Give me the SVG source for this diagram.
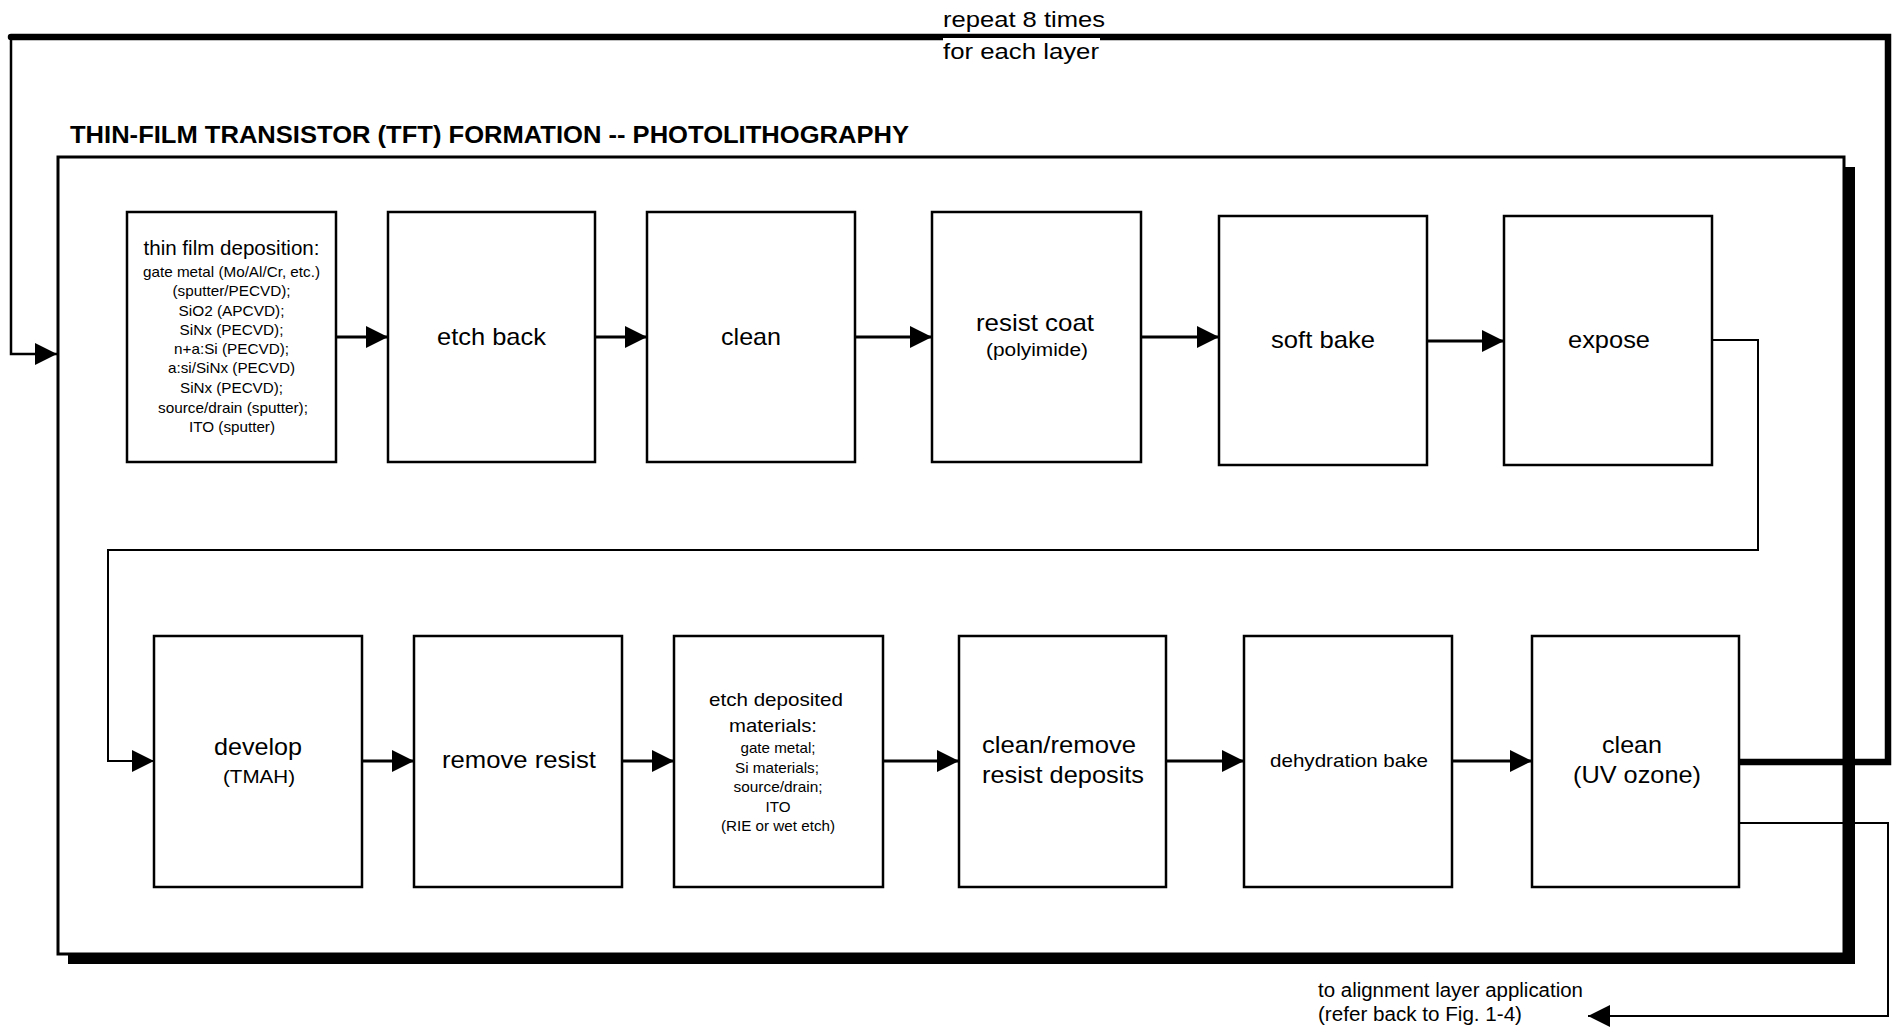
<svg xmlns="http://www.w3.org/2000/svg" width="1893" height="1028" viewBox="0 0 1893 1028">
<defs>
<marker id="ah" markerUnits="userSpaceOnUse" markerWidth="22" markerHeight="22" refX="22" refY="11" orient="auto" viewBox="0 0 22 22">
<path d="M0,0 L22,11 L0,22 z" fill="#000"/>
</marker>
</defs>
<style>
text{font-family:"Liberation Sans",Arial,sans-serif;fill:#000;text-anchor:middle}
.t{font-size:24px}
.m{font-size:19.5px}
.s{font-size:14.5px}
.box{fill:#fff;stroke:#000;stroke-width:2.5}
.arr{fill:none;stroke:#000;stroke-width:3;marker-end:url(#ah)}
.thin{fill:none;stroke:#000;stroke-width:2}
</style>
<rect x="0" y="0" width="1893" height="1028" fill="#fff"/>

<g id="frame">
<rect x="68" y="167" width="1787" height="797" fill="#000"/>
<rect x="58" y="157" width="1786" height="797" fill="#fff" stroke="#000" stroke-width="3"/>
<text x="70" y="143" style="font-size:24.5px;font-weight:bold;text-anchor:start" textLength="839" lengthAdjust="spacingAndGlyphs">THIN-FILM TRANSISTOR (TFT) FORMATION -- PHOTOLITHOGRAPHY</text>
</g>

<g id="connectors">
<path d="M11,37 H1888 V762 H1739" fill="none" stroke="#000" stroke-width="6.5" stroke-linecap="round"/>
<path d="M11,37 V354 H57" class="arr" style="stroke-width:2.5"/>
<path d="M336,337 H388" class="arr"/>
<path d="M595,337 H647" class="arr"/>
<path d="M855,337 H932" class="arr"/>
<path d="M1141,337 H1219" class="arr"/>
<path d="M1427,341 H1504" class="arr"/>
<path d="M1712,340 H1758 V550 H108 V761 H154" class="arr" style="stroke-width:2"/>
<path d="M362,761 H414" class="arr"/>
<path d="M622,761 H674" class="arr"/>
<path d="M883,761 H959" class="arr"/>
<path d="M1166,761 H1244" class="arr"/>
<path d="M1452,761 H1532" class="arr"/>
<path d="M1739,823 H1888 V1016 H1588" class="arr" style="stroke-width:2"/>
</g>

<g id="repeat-label">
<text x="1024" y="27" style="font-size:21.5px" textLength="162" lengthAdjust="spacingAndGlyphs">repeat 8 times</text>
<rect x="943" y="38" width="157" height="25" fill="#fff"/>
<text x="1021" y="59" style="font-size:21.5px" textLength="156" lengthAdjust="spacingAndGlyphs">for each layer</text>
</g>

<g id="n1">
<rect class="box" x="127" y="212" width="209" height="250"/>
<text class="m" x="231.5" y="255" textLength="176" lengthAdjust="spacingAndGlyphs">thin film deposition:</text>
<text class="s" x="231.5" y="277" textLength="177" lengthAdjust="spacingAndGlyphs">gate metal (Mo/Al/Cr, etc.)</text>
<text class="s" x="231.5" y="296" textLength="118" lengthAdjust="spacingAndGlyphs">(sputter/PECVD);</text>
<text class="s" x="231.5" y="316" textLength="106" lengthAdjust="spacingAndGlyphs">SiO2 (APCVD);</text>
<text class="s" x="231.5" y="335" textLength="104" lengthAdjust="spacingAndGlyphs">SiNx (PECVD);</text>
<text class="s" x="231.5" y="354" textLength="115" lengthAdjust="spacingAndGlyphs">n+a:Si (PECVD);</text>
<text class="s" x="231.5" y="373" textLength="127" lengthAdjust="spacingAndGlyphs">a:si/SiNx (PECVD)</text>
<text class="s" x="231.5" y="393" textLength="103" lengthAdjust="spacingAndGlyphs">SiNx (PECVD);</text>
<text class="s" x="233" y="413" textLength="150" lengthAdjust="spacingAndGlyphs">source/drain (sputter);</text>
<text class="s" x="232" y="432" textLength="86" lengthAdjust="spacingAndGlyphs">ITO (sputter)</text>
</g>
<g id="n2">
<rect class="box" x="388" y="212" width="207" height="250"/>
<text class="t" x="491.5" y="345" textLength="109" lengthAdjust="spacingAndGlyphs">etch back</text>
</g>
<g id="n3">
<rect class="box" x="647" y="212" width="208" height="250"/>
<text class="t" x="751" y="345" textLength="60" lengthAdjust="spacingAndGlyphs">clean</text>
</g>
<g id="n4">
<rect class="box" x="932" y="212" width="209" height="250"/>
<text class="t" x="1035" y="331" textLength="118" lengthAdjust="spacingAndGlyphs">resist coat</text>
<text x="1037" y="356" style="font-size:18px" textLength="102" lengthAdjust="spacingAndGlyphs">(polyimide)</text>
</g>
<g id="n5">
<rect class="box" x="1219" y="216" width="208" height="249"/>
<text class="t" x="1323" y="348" textLength="104" lengthAdjust="spacingAndGlyphs">soft bake</text>
</g>
<g id="n6">
<rect class="box" x="1504" y="216" width="208" height="249"/>
<text class="t" x="1609" y="348" textLength="82" lengthAdjust="spacingAndGlyphs">expose</text>
</g>

<g id="n7">
<rect class="box" x="154" y="636" width="208" height="251"/>
<text class="t" x="258" y="755" textLength="88" lengthAdjust="spacingAndGlyphs">develop</text>
<text x="259" y="783" style="font-size:18px" textLength="72" lengthAdjust="spacingAndGlyphs">(TMAH)</text>
</g>
<g id="n8">
<rect class="box" x="414" y="636" width="208" height="251"/>
<text class="t" x="519" y="768" textLength="154" lengthAdjust="spacingAndGlyphs">remove resist</text>
</g>
<g id="n9">
<rect class="box" x="674" y="636" width="209" height="251"/>
<text x="776" y="706" style="font-size:19px" textLength="134" lengthAdjust="spacingAndGlyphs">etch deposited</text>
<text x="773" y="732" style="font-size:19px" textLength="88" lengthAdjust="spacingAndGlyphs">materials:</text>
<text class="s" x="778" y="753" textLength="75" lengthAdjust="spacingAndGlyphs">gate metal;</text>
<text class="s" x="777" y="773" textLength="84" lengthAdjust="spacingAndGlyphs">Si materials;</text>
<text class="s" x="778" y="792" textLength="89" lengthAdjust="spacingAndGlyphs">source/drain;</text>
<text class="s" x="778" y="812" textLength="25" lengthAdjust="spacingAndGlyphs">ITO</text>
<text class="s" x="778" y="831" textLength="114" lengthAdjust="spacingAndGlyphs">(RIE or wet etch)</text>
</g>
<g id="n10">
<rect class="box" x="959" y="636" width="207" height="251"/>
<text class="t" x="1059" y="753" textLength="154" lengthAdjust="spacingAndGlyphs">clean/remove</text>
<text class="t" x="1063" y="783" textLength="162" lengthAdjust="spacingAndGlyphs">resist deposits</text>
</g>
<g id="n11">
<rect class="box" x="1244" y="636" width="208" height="251"/>
<text x="1349" y="767" style="font-size:18.5px" textLength="158" lengthAdjust="spacingAndGlyphs">dehydration bake</text>
</g>
<g id="n12">
<rect class="box" x="1532" y="636" width="207" height="251"/>
<text class="t" x="1632" y="753" textLength="60" lengthAdjust="spacingAndGlyphs">clean</text>
<text class="t" x="1637" y="783" textLength="128" lengthAdjust="spacingAndGlyphs">(UV ozone)</text>
</g>

<g id="exit-label">
<text x="1318" y="997" style="font-size:19.5px;text-anchor:start" textLength="265" lengthAdjust="spacingAndGlyphs">to alignment layer application</text>
<text x="1318" y="1021" style="font-size:19.5px;text-anchor:start" textLength="204" lengthAdjust="spacingAndGlyphs">(refer back to Fig. 1-4)</text>
</g>
</svg>
